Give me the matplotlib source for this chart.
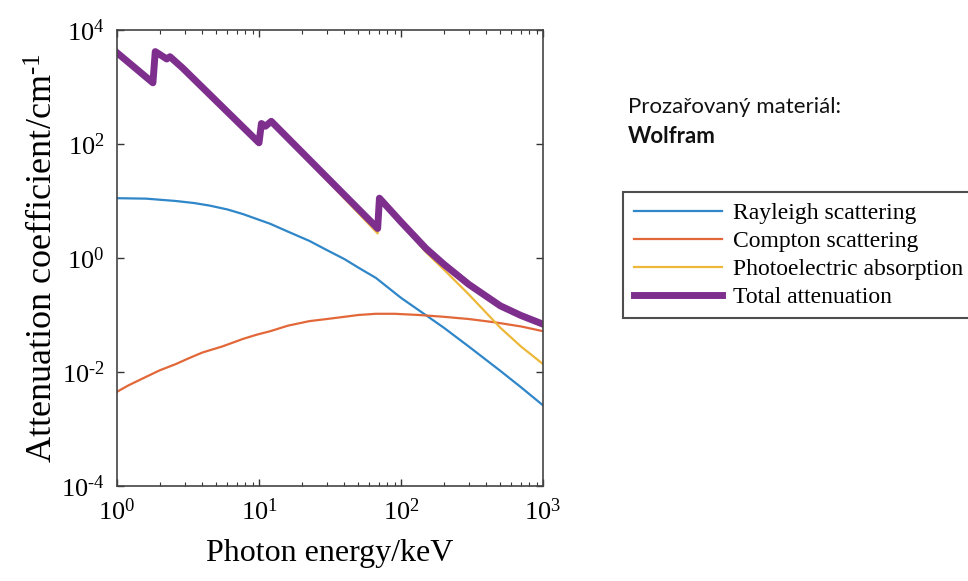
import numpy as np
import matplotlib
matplotlib.use("Agg")
import matplotlib.pyplot as plt
from matplotlib.ticker import LogLocator, NullLocator, FixedLocator

# serif look like the MATLAB export, mathtext in the same family
plt.rcParams['font.family'] = ['Liberation Serif', 'DejaVu Serif']
plt.rcParams['mathtext.fontset'] = 'custom'
plt.rcParams['mathtext.rm'] = 'Liberation Serif'
plt.rcParams['mathtext.it'] = 'Liberation Serif:italic'

# values (energy in keV, coefficient in 1/cm)
rayleigh_E = [1, 1.6, 2.6, 3.5, 4.5, 6, 7.7, 9.5, 12, 16, 22.6, 30, 40, 50,
              66.6, 100, 145, 200, 300, 500, 700, 1000]
rayleigh_mu = [11.2, 11.0, 10.0, 9.2, 8.3, 7.1, 5.9, 4.9, 3.98, 2.9, 2.0,
               1.38, 0.955, 0.68, 0.447, 0.20, 0.105, 0.060, 0.028, 0.0105,
               0.0054, 0.0026]

compton_E = [1, 1.2, 1.5, 2, 2.6, 3.2, 4, 5.5, 7.7, 9.5, 12, 16, 22.6, 30,
             40, 50, 66.6, 90, 134, 200, 300, 465, 700, 1000]
compton_mu = [0.0045, 0.0058, 0.0076, 0.0107, 0.0138, 0.0174, 0.022, 0.028,
              0.038, 0.0447, 0.052, 0.065, 0.078, 0.085, 0.093, 0.100,
              0.105, 0.105, 0.100, 0.093, 0.085, 0.074, 0.063, 0.052]

photo_E = [1.0, 1.79, 1.86, 2.0, 2.24, 2.36, 2.9, 10.0, 10.4, 11.1, 12.2,
           68.5, 70.5, 100, 150, 200, 300, 500, 700, 1000]
photo_mu = [3980, 1175, 4170, 3715, 3090, 3390, 2140, 100, 224, 200, 245,
            2.7, 11.0, 4.0, 1.26, 0.63, 0.23, 0.060, 0.028, 0.0138]

total_E = [1.0, 1.79, 1.86, 2.0, 2.24, 2.36, 2.9, 10.0, 10.4, 11.1, 12.2,
           68.5, 70.5, 100, 150, 200, 300, 500, 700, 1000]
total_mu = [3990, 1185, 4180, 3725, 3100, 3400, 2150, 105, 229, 205, 250,
            3.3, 11.2, 4.3, 1.47, 0.78, 0.345, 0.145, 0.098, 0.069]

labels = ['Rayleigh scattering', 'Compton scattering',
          'Photoelectric absorption', 'Total attenuation']

fig = plt.figure(figsize=(9.68, 5.81), dpi=100)
ax = fig.add_axes([117 / 968, 1 - 486 / 581, 426 / 968, 456 / 581])

ax.plot(rayleigh_E, rayleigh_mu, color='#2F86C8', lw=1.6, label=labels[0])
ax.plot(compton_E, compton_mu, color='#E2683A', lw=1.6, label=labels[1])
ax.plot(photo_E, photo_mu, color='#EDB83A', lw=1.6, label=labels[2])
ax.plot(total_E, total_mu, color='#7E2F8E', lw=5, label=labels[3],
        solid_joinstyle='round')

ax.set_xscale('log')
ax.set_yscale('log')
ax.set_xlim(1, 1000)
ax.set_ylim(1e-4, 1e4)

ax.xaxis.set_major_locator(FixedLocator([1, 10, 100, 1000]))
ax.xaxis.set_minor_locator(LogLocator(base=10, subs=np.arange(2, 10)))
ax.yaxis.set_major_locator(FixedLocator([1e-4, 1e-2, 1, 1e2, 1e4]))
ax.yaxis.set_minor_locator(NullLocator())
ax.set_xticklabels(['$10^{0}$', '$10^{1}$', '$10^{2}$', '$10^{3}$'])
ax.set_yticklabels([r'$10^{\text{-}4}$', r'$10^{\text{-}2}$', '$10^{0}$',
                    '$10^{2}$', '$10^{4}$'])

ax.tick_params(which='both', direction='in', top=True, right=True,
               color='#333333', labelsize=19)
ax.tick_params(which='major', length=5, width=1)
ax.tick_params(which='minor', length=3, width=0.8)
ax.tick_params(axis='x', pad=9)
ax.tick_params(axis='y', pad=9)
for s in ax.spines.values():
    s.set_color('#444444')
    s.set_linewidth(1.2)

ax.set_xlabel('Photon energy/keV', fontsize=23, labelpad=10)
ax.set_ylabel(r'Attenuation coefficient/cm$^{\text{-}1}$', fontsize=26)
ax.yaxis.set_label_coords(-0.133, 0.5)

leg = fig.legend(loc='upper left', bbox_to_anchor=(623 / 968, 1 - 192 / 581),
                 bbox_transform=fig.transFigure, borderaxespad=0,
                 fontsize=17, frameon=True, fancybox=False, handlelength=3.75,
                 handletextpad=0.45, labelspacing=0.27, borderpad=0.45)
leg.get_frame().set_edgecolor('#222222')
leg.get_frame().set_linewidth(1.5)

fig.text(628 / 968, 1 - 113 / 581, 'Prozařovaný materiál:', family='Lato',
         fontsize=16, va='baseline', color='#111111')
fig.text(628 / 968, 1 - 143 / 581, 'Wolfram', family='Lato',
         fontsize=16, fontweight='bold', va='baseline', color='#111111')

fig.savefig('out.png', dpi=100)
